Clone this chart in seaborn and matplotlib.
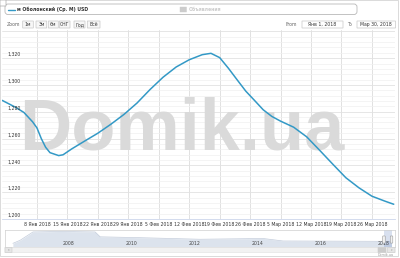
import numpy as np
import pandas as pd
import matplotlib
matplotlib.use("Agg")
import matplotlib.pyplot as plt
import matplotlib.transforms as mtransforms
from matplotlib.patches import FancyBboxPatch
from matplotlib.lines import Line2D
import seaborn as sns

# ---------------- data ----------------
dates = ["2017-12-31", "2018-01-03", "2018-01-05", "2018-01-07", "2018-01-08",
         "2018-01-09", "2018-01-10", "2018-01-11", "2018-01-13", "2018-01-14",
         "2018-01-16", "2018-01-19", "2018-01-22", "2018-01-25", "2018-01-28",
         "2018-01-31", "2018-02-03", "2018-02-06", "2018-02-09", "2018-02-12",
         "2018-02-15", "2018-02-17", "2018-02-19", "2018-02-21", "2018-02-23",
         "2018-02-25", "2018-02-27", "2018-03-01", "2018-03-03", "2018-03-05",
         "2018-03-08", "2018-03-11", "2018-03-14", "2018-03-17", "2018-03-20",
         "2018-03-23", "2018-03-26", "2018-03-29", "2018-03-31"]
prices = [1288.5, 1283.5, 1279.5, 1272.5, 1268.0,
          1260.0, 1253.5, 1249.5, 1247.3, 1247.9,
          1252.3, 1258.2, 1264.0, 1270.7, 1278.0,
          1286.5, 1296.6, 1305.8, 1313.4, 1318.8,
          1322.6, 1323.6, 1320.4, 1312.5, 1303.9,
          1295.4, 1288.5, 1281.5, 1276.5, 1273.0,
          1268.5, 1261.3, 1251.2, 1240.9, 1230.8,
          1223.3, 1217.0, 1213.3, 1211.0]

series_name = "м Оболонский (Ср. М) USD"
hidden_series_name = "Объявления"

ytick_values = [1200, 1220, 1240, 1260, 1280, 1300, 1320, 1340]
xtick_dates = ["2018-01-08", "2018-01-15", "2018-01-22", "2018-01-29",
               "2018-02-05", "2018-02-12", "2018-02-19", "2018-02-26",
               "2018-03-05", "2018-03-12", "2018-03-19", "2018-03-26"]
xtick_labels = ["8 Янв 2018", "15 Янв 2018", "22 Янв 2018", "29 Янв 2018",
                "5 Фев 2018", "12 Фев 2018", "19 Фев 2018", "26 Фев 2018",
                "5 Мар 2018", "12 Мар 2018", "19 Мар 2018", "26 Мар 2018"]

nav_years = [2006.22, 2006.45, 2006.86, 2007.72, 2008.83, 2008.99, 2010.26,
             2012.16, 2014.16, 2014.80, 2017.78, 2018.13, 2018.24]
nav_values = [1000, 1390, 2450, 2510, 2450, 1830, 1720,
              1520, 1620, 1300, 1260, 1255, 1250]
nav_label_years = [2008, 2010, 2012, 2014, 2016, 2018]

zoom_buttons = ["1м", "3м", "6м", "СНГ", "Год", "Всё"]
from_label = "Янв 1, 2018"
to_label = "Мар 30, 2018"

# ---------------- figure ----------------
sns.set_theme(style="white")
plt.rcParams['font.family'] = ['DejaVu Sans']

W, H = 400, 258
fig = plt.figure(figsize=(4.0, 2.58), dpi=100)
fig.patch.set_facecolor("white")


def fx(px):
    return px / W


def fy(py):
    return 1 - py / H


def box(x0, y0, x1, y1, fc="white", ec="#cccccc", lw=0.5, r=0.015, z=5):
    p = FancyBboxPatch((x0 / 100, (H - y1) / 100), (x1 - x0) / 100, (y1 - y0) / 100,
                       boxstyle=f"round,pad=0,rounding_size={r}",
                       transform=fig.dpi_scale_trans, facecolor=fc, edgecolor=ec,
                       linewidth=lw, zorder=z)
    fig.add_artist(p)
    return p


def ftext(px, py, s, **kw):
    kw.setdefault("fontsize", 3.3)
    kw.setdefault("color", "#333333")
    kw.setdefault("va", "center")
    return fig.text(fx(px), fy(py), s, **kw)


# outer border
box(0.5, 0.5, 398.5, 256.5, fc="none", ec="#d4d4d4", lw=0.6, r=0.0, z=1)
box(0, 0, 6, 6, fc="white", ec="#aaaaaa", lw=0.5, r=0.0, z=6)

# legend box
box(5, 4, 357, 14.5, fc="white", ec="#b8b8b8", lw=0.6, r=0.03)
fig.add_artist(Line2D([fx(8), fx(15)], [fy(9.5), fy(9.5)], color="#3399c6",
                      lw=1.0, transform=fig.transFigure, zorder=6))
ftext(17, 9.6, series_name, fontweight="bold", zorder=6)
box(180, 7, 186.5, 12, fc="#cccccc", ec="#cccccc", lw=0.3, r=0.0, z=6)
ftext(189, 9.6, hidden_series_name, color="#cccccc", fontweight="bold", zorder=6)

# range selector
ftext(7, 24.5, "Zoom", color="#666666")
btn_x = [(22.7, 33.3), (36, 46.7), (48.3, 58.3), (59.3, 70), (74, 85), (87.3, 100)]
for (x0, x1), lab in zip(btn_x, zoom_buttons):
    box(x0, 21, x1, 28, fc="#f7f7f7", ec="#c8c8c8", lw=0.5, r=0.0)
    ftext((x0 + x1) / 2, 24.6, lab, ha="center", zorder=6)

ftext(286, 24.5, "From", color="#666666")
box(302, 21, 343, 28, fc="white", ec="#c8c8c8", lw=0.5, r=0.0)
ftext(322.5, 24.6, from_label, ha="center", zorder=6)
ftext(347, 24.5, "To", color="#666666")
box(357, 21, 395.5, 28, fc="white", ec="#c8c8c8", lw=0.5, r=0.0)
ftext(376.2, 24.6, to_label, ha="center", zorder=6)

# ---------------- main plot ----------------
df = pd.DataFrame({"date": pd.to_datetime(dates), "price": prices})

ax = fig.add_axes([fx(2), fy(219), fx(395) - fx(2), fy(30) - fy(219)])
ax.set_facecolor("none")
sns.lineplot(data=df, x="date", y="price", ax=ax, color="#3399c6",
             linewidth=1.1, zorder=3)

x0 = pd.Timestamp("2018-01-01") - pd.Timedelta(days=1.03)
x1 = pd.Timestamp("2018-01-01") + pd.Timedelta(days=89.3)
ax.set_xlim(x0, x1)
ax.set_ylim(1200, 1341)

ax.set_yticks(ytick_values)
ax.set_yticks(np.arange(1200, 1341, 4), minor=True)
ax.grid(axis="y", which="major", color="#e2e2e2", lw=0.6, zorder=0)
ax.grid(axis="y", which="minor", color="#f0f0f0", lw=0.5, zorder=0)
ax.set_xticks(pd.to_datetime(xtick_dates))
ax.set_xticklabels(xtick_labels, fontsize=3.35, color="#333333")
ax.grid(axis="x", which="major", color="#dcdcdc", lw=0.6, zorder=0)
ax.tick_params(axis="x", length=0, pad=2.2)
ax.tick_params(axis="y", which="both", length=0, labelleft=False)
ax.set_xlabel("")
ax.set_ylabel("")
for s in ["top", "right", "left"]:
    ax.spines[s].set_visible(False)
ax.spines["bottom"].set_color("#ccd6eb")
ax.spines["bottom"].set_linewidth(0.6)

blend = mtransforms.blended_transform_factory(ax.transAxes, ax.transData)
off = mtransforms.ScaledTranslation(0, 1.0 / 100, fig.dpi_scale_trans)
for v in ytick_values:
    if v > 1330:
        continue
    ax.text(5.0 / 393, v, f"{v:,}", transform=blend + off, fontsize=3.3,
            color="#333333", ha="left", va="bottom", zorder=4)

# watermark (behind line)
ax.text(fx(181.5), fy(150), "Domik.ua", transform=fig.transFigure,
        fontsize=52, family="Liberation Sans", fontweight="bold",
        color="#dadada", ha="center", va="baseline", zorder=1.5, clip_on=False)

# ---------------- navigator ----------------
axn = fig.add_axes([fx(5), fy(246.5), fx(395) - fx(5), fy(229.5) - fy(246.5)])
axn.set_facecolor("white")
axn.fill_between(nav_years, nav_values, 600, color="#dce3ed", lw=0, zorder=1)
sns.lineplot(x=nav_years, y=nav_values, ax=axn, color="#c3ccdb", linewidth=0.5,
             zorder=2)
axn.set_xlim(2005.97, 2018.35)
axn.set_ylim(600, 2760)
axn.set_xticks([])
axn.set_yticks([])
axn.set_xlabel("")
axn.set_ylabel("")
for s in axn.spines.values():
    s.set_color("#cfcfcf")
    s.set_linewidth(0.5)
nblend = mtransforms.blended_transform_factory(axn.transData, axn.transAxes)
for yr in nav_label_years:
    axn.text(yr, 0.2, str(yr), transform=nblend, fontsize=3.3, color="#444444",
             ha="center", va="center", zorder=3)
axn.axvspan(2018.0, 2018.24, color="#6685c2", alpha=0.25, lw=0, zorder=2.5)
for hx in (2018.0, 2018.24):
    axn.add_patch(FancyBboxPatch((hx - 0.04, 0.2), 0.08, 0.42,
                                 boxstyle="round,pad=0,rounding_size=0.02",
                                 transform=nblend, facecolor="#f2f2f2",
                                 edgecolor="#999999", lw=0.4, zorder=4,
                                 clip_on=False))

# scrollbar
box(5, 247.5, 395, 252.5, fc="#f2f2f2", ec="#e0e0e0", lw=0.4, r=0.0)
box(5, 247.5, 12, 252.5, fc="#e6e6e6", ec="#cccccc", lw=0.4, r=0.0, z=6)
ftext(8.5, 250, "‹", fontsize=3, ha="center", color="#555555", zorder=7)
box(378, 247.5, 386, 252.5, fc="#cccccc", ec="#cccccc", lw=0.4, r=0.0, z=6)
box(387.5, 247.5, 395, 252.5, fc="#e6e6e6", ec="#cccccc", lw=0.4, r=0.0, z=6)
ftext(391.2, 250, "›", fontsize=3, ha="center", color="#555555", zorder=7)

# credits
ftext(394, 255.3, "Domik.ua", fontsize=2.4, color="#999999", ha="right", zorder=7)

fig.savefig("out.png", dpi=100)
